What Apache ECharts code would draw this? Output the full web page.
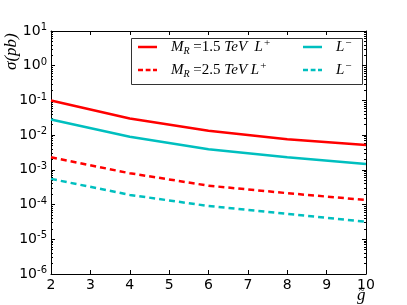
<!DOCTYPE html>
<html>
<head>
<meta charset="utf-8">
<script src="https://cdn.jsdelivr.net/npm/echarts@6/dist/echarts.min.js"></script>
<style>
  html, body { margin: 0; padding: 0; background: #fff; }
  #chart { width: 407px; height: 305px; }
</style>
</head>
<body>
<div id="chart"></div>
<script>
// data
const gValues = [2, 4, 6, 8, 10];
const mr15Lplus = [0.100, 0.030, 0.0134, 0.0076, 0.0052];
const mr15Lminus = [0.0284, 0.0090, 0.0039, 0.0023, 0.00148];
const mr25Lplus = [0.0023, 0.0008, 0.00035, 0.000213, 0.000135];
const mr25Lminus = [0.00055, 0.00019, 0.000091, 0.000054, 0.000032];

(function () {
  const myChart = echarts.init(document.getElementById('chart'), null, { renderer: 'canvas' });

  const pairs = arr => gValues.map((g, i) => [g, arr[i]]);
  const serif = 'Liberation Serif';

  // legend texts (mathtext style)
  const legendText = {
    r15p: '{i|M}{s|R}{n| =1.5 }{i|TeV  L}{p|+}',
    r25p: '{i|M}{s|R}{n| =2.5 }{i|TeV L}{p|+}',
    r15m: '{i|L}{p|−}',
    r25m: '{i|L}{p|−}'
  };
  const solidIcon = 'path://M0,0H19V2.5H0Z';
  const dashIcon = 'path://M0,0H5V2.5H0Z M7.7,0H12.5V2.5H7.7Z M15,0H19V2.5H15Z';

  const legendBase = {
    top: 38,
    orient: 'vertical',
    itemWidth: 19,
    itemHeight: 2.5,
    itemGap: 5,
    padding: 0,
    formatter: name => legendText[name],
    textStyle: {
      padding: [0, 0, 0, 9],
      lineHeight: 18,
      rich: {
        i: { fontFamily: serif, fontStyle: 'italic', fontSize: 15, color: '#000' },
        n: { fontFamily: serif, fontSize: 15, color: '#000' },
        s: { fontFamily: serif, fontStyle: 'italic', fontSize: 10, color: '#000', verticalAlign: 'bottom', padding: [7, 0, 0, 0] },
        p: { fontFamily: serif, fontSize: 11, color: '#000', verticalAlign: 'top', padding: [0, 0, 6, 1] }
      }
    }
  };

  const frameTick = { show: true, inside: true, length: 4, lineStyle: { color: '#000', width: 1 } };
  const minorTick = { show: true, splitNumber: 9, length: 2, lineStyle: { color: '#000', width: 1 } };

  const option = {
    animation: false,
    backgroundColor: '#fff',
    grid: { left: 51, right: 41, top: 31, bottom: 31 },
    legend: [
      Object.assign({}, legendBase, {
        left: 138,
        data: [{ name: 'r15p', icon: solidIcon }, { name: 'r25p', icon: dashIcon }]
      }),
      Object.assign({}, legendBase, {
        left: 303,
        data: [{ name: 'r15m', icon: solidIcon }, { name: 'r25m', icon: dashIcon }]
      })
    ],
    xAxis: [
      {
        type: 'value',
        min: 2, max: 10, interval: 1,
        axisLine: { show: true, lineStyle: { color: '#000', width: 1 } },
        axisTick: frameTick,
        splitLine: { show: false },
        axisLabel: { margin: 4, color: '#000', fontFamily: 'DejaVu Sans', fontSize: 14 }
      },
      {
        type: 'value', position: 'top',
        min: 2, max: 10, interval: 1,
        axisLine: { show: true, lineStyle: { color: '#000', width: 1 } },
        axisTick: frameTick,
        splitLine: { show: false },
        axisLabel: { show: false }
      }
    ],
    yAxis: [
      {
        type: 'log', logBase: 10,
        min: 1e-6, max: 10, interval: 1,
        axisLine: { show: true, lineStyle: { color: '#000', width: 1 } },
        axisTick: frameTick,
        minorTick: minorTick,
        splitLine: { show: false },
        axisLabel: {
          margin: 4,
          formatter: v => '{b|10}{e|' + Math.round(Math.log10(v)) + '}',
          rich: {
            b: { fontFamily: 'DejaVu Sans', fontSize: 14, color: '#000' },
            e: { fontFamily: 'DejaVu Sans', fontSize: 10, color: '#000', verticalAlign: 'top', padding: [0, 0, 7, 0] }
          }
        }
      },
      {
        type: 'log', logBase: 10, position: 'right',
        min: 1e-6, max: 10, interval: 1,
        axisLine: { show: true, lineStyle: { color: '#000', width: 1 } },
        axisTick: frameTick,
        minorTick: minorTick,
        splitLine: { show: false },
        axisLabel: { show: false }
      }
    ],
    series: [
      { name: 'r15p', type: 'line', data: pairs(mr15Lplus), symbol: 'none', color: '#ff0000',
        lineStyle: { width: 2.5, type: 'solid' } },
      { name: 'r15m', type: 'line', data: pairs(mr15Lminus), symbol: 'none', color: '#00bfbf',
        lineStyle: { width: 2.5, type: 'solid' } },
      { name: 'r25p', type: 'line', data: pairs(mr25Lplus), symbol: 'none', color: '#ff0000',
        lineStyle: { width: 2.5, type: [6, 4] } },
      { name: 'r25m', type: 'line', data: pairs(mr25Lminus), symbol: 'none', color: '#00bfbf',
        lineStyle: { width: 2.5, type: [6, 4] } }
    ],
    graphic: [
      // legend frame
      { type: 'rect', left: 129, top: 36, shape: { width: 231, height: 46 },
        style: { fill: 'none', stroke: '#333', lineWidth: 1 }, silent: true },
      // y label
      { type: 'text', x: 3, y: 70, rotation: Math.PI / 2,
        style: { text: 'σ(pb)', font: 'italic 17px "Liberation Serif"', fill: '#000' } },
      // x label: g with a tilde above
      { type: 'text', x: 357, y: 287,
        style: { text: 'g', font: 'italic 17px "Liberation Serif"', fill: '#000' } },
      { type: 'text', x: 359, y: 285,
        style: { text: '~', font: '10px "Liberation Serif"', fill: '#000' } }
    ]
  };

  myChart.setOption(option);
  window.addEventListener('resize', function () { myChart.resize(); });
})();
</script>
</body>
</html>
